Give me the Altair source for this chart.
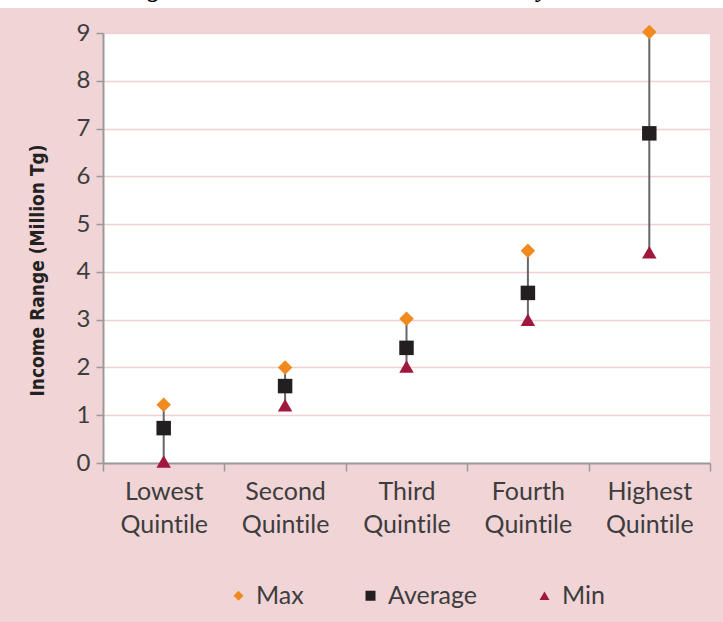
import altair as alt
import pandas as pd

categories = ["Lowest Quintile", "Second Quintile", "Third Quintile", "Fourth Quintile", "Highest Quintile"]
max_vals = [1.22, 2.0, 3.02, 4.44, 9.02]
avg_vals = [0.73, 1.61, 2.41, 3.56, 6.9]
min_vals = [0.03, 1.21, 2.02, 3.0, 4.41]
series_names = ["Max", "Average", "Min"]
series_colors = ["#f0891e", "#231f20", "#a0183c"]
series_shapes = ["diamond", "square", "triangle-up"]

wide = pd.DataFrame({"cat": categories, "Max": max_vals, "Average": avg_vals, "Min": min_vals})
long = wide.melt(id_vars="cat", value_vars=series_names, var_name="series", value_name="value")

FONT = "Lato"
LABEL_COLOR = "#3d3d3d"

x_enc = alt.X(
    "cat:N",
    sort=categories,
    scale=alt.Scale(paddingInner=0, paddingOuter=0),
    axis=alt.Axis(
        title=None,
        labelExpr="split(replace(datum.label, 'ti', 't\u200ci'), ' ')",
        labelFontSize=25,
        labelLineHeight=33,
        labelFont=FONT,
        labelColor=LABEL_COLOR,
        labelPadding=8,
        labelAngle=0,
        tickBand="extent",
        tickSize=8,
        tickColor="#999",
        tickWidth=1.5,
        domainColor="#999",
        domainWidth=2,
        grid=False,
    ),
)

y_scale = alt.Scale(domain=[0, 9], nice=False, zero=True)
y_axis = alt.Axis(
    title="Income Range (Million Tg)",
    titleFont="DejaVu Sans Condensed",
    titleFontWeight="bold",
    titleFontSize=19,
    titleColor="#222",
    titleX=-66,
    titleY=237,
    titleAlign="center",
    titleBaseline="middle",
    titleAngle=270,
    values=list(range(10)),
    labelFontSize=24,
    labelFont=FONT,
    labelColor=LABEL_COLOR,
    labelPadding=6,
    tickSize=7,
    tickColor="#999",
    tickWidth=1.5,
    domainColor="#999",
    domainWidth=2,
    grid=True,
    gridColor="#f2cfd2",
    gridWidth=1.5,
)

legend = alt.Legend(
    title=None,
    orient="none",
    direction="horizontal",
    legendX=123,
    legendY=550,
    labelFontSize=25,
    labelFont=FONT,
    labelColor=LABEL_COLOR,
    symbolSize=100,
    columnPadding=54,
    labelOffset=5,
    padding=0,
)

# white page strip above the pink panel (decorative background, not data)
strip = alt.Chart(alt.Data(values=[{}])).mark_rect(color="white").encode(
    x=alt.value(-103), x2=alt.value(620), y=alt.value(-33), y2=alt.value(-25)
)

rules = alt.Chart(wide).mark_rule(color="#666", strokeWidth=2).encode(
    x=x_enc,
    y=alt.Y("Min:Q", scale=y_scale, axis=y_axis),
    y2="Max:Q",
)

points = alt.Chart(long).mark_point(filled=True, size=210, opacity=1).encode(
    x=x_enc,
    y=alt.Y("value:Q", scale=y_scale, axis=y_axis),
    color=alt.Color("series:N", scale=alt.Scale(domain=series_names, range=series_colors), legend=legend),
    shape=alt.Shape("series:N", scale=alt.Scale(domain=series_names, range=series_shapes), legend=legend),
)

chart = (
    alt.layer(strip, rules, points)
    .properties(
        width=607,
        height=430,
        background="#f0d4d6",
        padding={"left": 103, "top": 33, "right": 13, "bottom": 159},
        autosize=alt.AutoSizeParams(type="none"),
        title=alt.TitleParams(
            text="Figure 4.1: Household Total Income by Quintile",
            font="Liberation Serif",
            fontStyle="italic",
            fontWeight="normal",
            fontSize=27,
            color="black",
            anchor="start",
            frame="group",
            dx=21,
            dy=2,
            offset=0,
            zindex=1,
        ),
    )
    .configure_view(fill="white", stroke=None)
)

chart.save("out.html", embed_options={"renderer": "svg", "actions": False})
